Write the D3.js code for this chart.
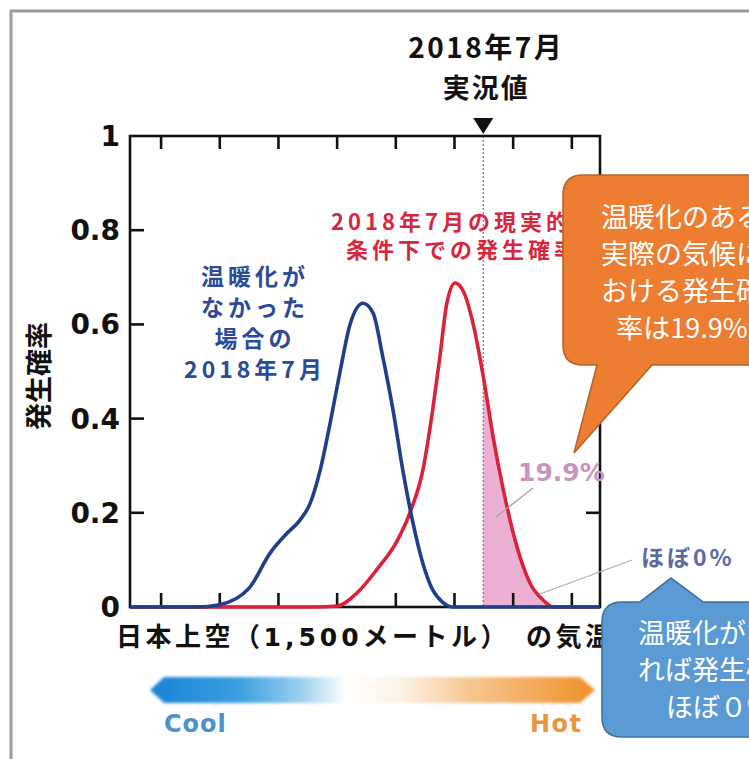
<!DOCTYPE html>
<html>
<head>
<meta charset="utf-8">
<script src="https://cdn.jsdelivr.net/npm/d3@7"></script>
<style>
  html, body { margin: 0; padding: 0; background: #fff; }
  svg { display: block; }
  .jp { font-family: "Noto Sans CJK JP", "Noto Sans", sans-serif; }
  .num { font-family: "DejaVu Sans", "Liberation Sans", sans-serif; }
</style>
</head>
<body>
<svg id="chart" width="749" height="759"></svg>
<script>
// Temperature axis (arbitrary units, one tick per unit)
const xTicks = [0, 1, 2, 3, 4, 5, 6, 7];
const yTicks = [0, 0.2, 0.4, 0.6, 0.8, 1];
const yTickLabels = ["0", "0.2", "0.4", "0.6", "0.8", "1"];

// Observed July 2018 value
const observed = 5.49;

// Distribution without warming (blue)
const noWarmX = [-0.53, 0.6, 1.0, 1.5, 1.86, 2.15, 2.37, 2.54, 2.71, 2.88, 3.05, 3.22, 3.44, 3.61, 3.78, 3.95, 4.12, 4.29, 4.46, 4.63, 4.8, 4.97, 7.48];
const noWarmY = [0, 0, 0.005, 0.04, 0.115, 0.157, 0.185, 0.22, 0.29, 0.39, 0.50, 0.60, 0.645, 0.625, 0.53, 0.42, 0.29, 0.18, 0.093, 0.036, 0.01, 0, 0];

// Distribution under actual 2018 conditions (red)
const actualX = [-0.53, 2.6, 3.0, 3.34, 3.68, 4.02, 4.24, 4.46, 4.63, 4.75, 4.87, 5.01, 5.14, 5.32, 5.49, 5.66, 5.83, 6.06, 6.29, 6.51, 6.68, 7.48];
const actualY = [0, 0, 0.002, 0.03, 0.08, 0.14, 0.20, 0.29, 0.42, 0.53, 0.645, 0.688, 0.673, 0.60, 0.49, 0.36, 0.25, 0.13, 0.05, 0.015, 0, 0];

// Text blocks
const blueLabel = ["温暖化が", "なかった", "場合の", "2018年7月"];
const redLabel = ["2018年7月の現実的な", "条件下での発生確率"];
const orangeLines = ["温暖化のある", "実際の気候に", "おける発生確", "率は19.9%"];
const blueLines = ["温暖化がなけ", "れば発生確率", "ほぼ０%"];
const xTitleParts = ["日本上空（", "1,500", "メートル）", "の気温"];

const svg = d3.select("#chart");

const x = d3.scaleLinear().domain([-0.53, 7.48]).range([130, 600]);
const y = d3.scaleLinear().domain([0, 1]).range([607, 136]);

// Outer panel border
svg.append("path")
  .attr("d", "M11,759 L11,11 L749,11")
  .attr("fill", "none").attr("stroke", "#9c9c9c").attr("stroke-width", 3);

const defs = svg.append("defs");

// Gradient Cool → Hot arrow
const grad = defs.append("linearGradient").attr("id", "tempGrad")
  .attr("x1", "0%").attr("x2", "100%").attr("y1", "0%").attr("y2", "0%");
[["0%", "#1784d6"], ["20%", "#3c9fe0"], ["34%", "#9bd0ef"], ["44%", "#ffffff"], ["56%", "#fdf3e6"], ["72%", "#f6c690"], ["100%", "#ef8f28"]]
  .forEach(([o, c]) => grad.append("stop").attr("offset", o).attr("stop-color", c));
defs.append("filter").attr("id", "soft").append("feGaussianBlur").attr("stdDeviation", 1.4);

svg.append("path")
  .attr("d", "M150,690 L164,677 L580,677 L595,690 L580,703 L164,703 Z")
  .attr("fill", "url(#tempGrad)").attr("filter", "url(#soft)");

svg.append("text").attr("class", "num").attr("x", 164).attr("y", 732)
  .attr("font-size", 24).attr("font-weight", "bold").attr("letter-spacing", 1).attr("fill", "#4a92c9").text("Cool");
svg.append("text").attr("class", "num").attr("x", 530).attr("y", 732)
  .attr("font-size", 24).attr("font-weight", "bold").attr("letter-spacing", 1.5).attr("fill", "#e9963f").text("Hot");

const redPts = actualX.map((v, i) => [v, actualY[i]]);
const bluePts = noWarmX.map((v, i) => [v, noWarmY[i]]);
const lineGen = d3.line().x(d => x(d[0])).y(d => y(d[1])).curve(d3.curveMonotoneX);

// Shaded tail beyond the observed value
defs.append("clipPath").attr("id", "tailClip").append("rect")
  .attr("x", x(observed)).attr("y", y(1)).attr("width", x(7.48) - x(observed)).attr("height", y(0) - y(1));
svg.append("path")
  .datum(redPts)
  .attr("d", d3.area().x(d => x(d[0])).y0(y(0)).y1(d => y(d[1])).curve(d3.curveMonotoneX))
  .attr("fill", "#edb0d5").attr("clip-path", "url(#tailClip)");

// Observed value line and marker
svg.append("line")
  .attr("x1", x(observed)).attr("x2", x(observed)).attr("y1", y(1)).attr("y2", y(0))
  .attr("stroke", "#777").attr("stroke-width", 1.2).attr("stroke-dasharray", "2,2");
svg.append("path")
  .attr("d", `M${x(observed) - 10},118 L${x(observed) + 10},118 L${x(observed)},134 Z`)
  .attr("fill", "#111");

// Frame and inward ticks
const axisColor = "#111";
svg.append("rect")
  .attr("x", x(-0.53)).attr("y", y(1)).attr("width", x(7.48) - x(-0.53)).attr("height", y(0) - y(1))
  .attr("fill", "none").attr("stroke", axisColor).attr("stroke-width", 2.6);

const tickG = svg.append("g").attr("stroke", axisColor).attr("stroke-width", 2.6);
xTicks.forEach(t => {
  tickG.append("line").attr("x1", x(t)).attr("x2", x(t)).attr("y1", y(0)).attr("y2", y(0) - 14);
  tickG.append("line").attr("x1", x(t)).attr("x2", x(t)).attr("y1", y(1)).attr("y2", y(1) + 13);
});
yTicks.filter(t => t > 0 && t < 1).forEach(t => {
  tickG.append("line").attr("x1", x(-0.53)).attr("x2", x(-0.53) + 14).attr("y1", y(t)).attr("y2", y(t));
  tickG.append("line").attr("x1", x(7.48)).attr("x2", x(7.48) - 14).attr("y1", y(t)).attr("y2", y(t));
});

// Y tick labels
svg.append("g").selectAll("text").data(yTicks).join("text")
  .attr("class", "num")
  .attr("x", 120).attr("y", d => y(d)).attr("dy", "0.36em")
  .attr("text-anchor", "end").attr("font-size", 28).attr("font-weight", "bold").attr("fill", "#111")
  .text((d, i) => yTickLabels[i]);

// Curves: red first, blue on top
svg.append("path").datum(redPts).attr("d", lineGen)
  .attr("fill", "none").attr("stroke", "#dc2139").attr("stroke-width", 3.6).attr("stroke-linejoin", "round");
svg.append("path").datum(bluePts).attr("d", lineGen)
  .attr("fill", "none").attr("stroke", "#213e8c").attr("stroke-width", 3.6).attr("stroke-linejoin", "round");

// Heading above the observed marker
svg.append("text").attr("class", "jp").attr("x", x(observed) + 3).attr("y", 58)
  .attr("text-anchor", "middle").attr("font-size", 28).attr("font-weight", "bold").attr("letter-spacing", 2.5)
  .attr("fill", "#111").text("2018年7月");
svg.append("text").attr("class", "jp").attr("x", x(observed) + 3).attr("y", 98)
  .attr("text-anchor", "middle").attr("font-size", 27).attr("font-weight", "bold").attr("letter-spacing", 2)
  .attr("fill", "#111").text("実況値");

// Axis titles
svg.append("text").attr("class", "jp")
  .attr("transform", "translate(49,376) rotate(-90)")
  .attr("text-anchor", "middle").attr("font-size", 27).attr("font-weight", "bold").attr("fill", "#111").text("発生確率");

const xTitle = svg.append("text").attr("class", "jp").attr("x", 116).attr("y", 646)
  .attr("font-size", 26).attr("font-weight", "bold").attr("letter-spacing", 3.5).attr("fill", "#111");
xTitleParts.forEach((p, i) => {
  const t = xTitle.append("tspan").text(p);
  if (i === 1) t.attr("class", "num").attr("font-size", 25).attr("letter-spacing", 4);
  if (i === 3) t.attr("dx", 16);
});

// Curve labels
svg.append("g").selectAll("text").data(blueLabel).join("text")
  .attr("class", "jp").attr("x", 255).attr("y", (d, i) => 285 + i * 31)
  .attr("text-anchor", "middle").attr("font-size", 23).attr("font-weight", "bold").attr("letter-spacing", 4)
  .attr("fill", "#2b4a97").text(d => d);

svg.append("g").selectAll("text").data(redLabel).join("text")
  .attr("class", "jp").attr("x", (d, i) => i === 0 ? 331 : 346).attr("y", (d, i) => 230 + i * 28)
  .attr("font-size", 22).attr("font-weight", "bold").attr("fill", "#d8263c").attr("letter-spacing", 4)
  .text(d => d);

// Tail probability annotations
svg.append("line").attr("x1", 533).attr("y1", 488).attr("x2", 496).attr("y2", 517)
  .attr("stroke", "#b89ab0").attr("stroke-width", 1.3);
svg.append("text").attr("class", "num").attr("x", 518).attr("y", 481)
  .attr("font-size", 25).attr("font-weight", "bold").attr("fill", "#c995be").text("19.9%");

svg.append("line").attr("x1", 632).attr("y1", 560).attr("x2", 540).attr("y2", 594)
  .attr("stroke", "#a9aec4").attr("stroke-width", 1.3);
svg.append("text").attr("class", "jp").attr("x", 641).attr("y", 566)
  .attr("font-size", 23).attr("font-weight", "bold").attr("letter-spacing", 3).attr("fill", "#5c6aa3").text("ほぼ0%");

// Callout bubbles
function bubble(bx, by, bw, bh, r, ptr, fill, stroke) {
  const [p1, tip, p2] = ptr;
  let d;
  if (p1[1] <= by + 1) {
    d = `M${bx + r},${by} L${p1[0]},${by} L${tip[0]},${tip[1]} L${p2[0]},${by} L${bx + bw - r},${by}
         Q${bx + bw},${by} ${bx + bw},${by + r} L${bx + bw},${by + bh - r} Q${bx + bw},${by + bh} ${bx + bw - r},${by + bh}
         L${bx + r},${by + bh} Q${bx},${by + bh} ${bx},${by + bh - r} L${bx},${by + r} Q${bx},${by} ${bx + r},${by} Z`;
  } else {
    d = `M${bx + r},${by} L${bx + bw - r},${by} Q${bx + bw},${by} ${bx + bw},${by + r} L${bx + bw},${by + bh - r}
         Q${bx + bw},${by + bh} ${bx + bw - r},${by + bh} L${p2[0]},${by + bh} L${tip[0]},${tip[1]} L${p1[0]},${by + bh}
         L${bx + r},${by + bh} Q${bx},${by + bh} ${bx},${by + bh - r} L${bx},${by + r} Q${bx},${by} ${bx + r},${by} Z`;
  }
  svg.append("path").attr("d", d).attr("fill", fill).attr("stroke", stroke).attr("stroke-width", 1.6);
}

bubble(563, 175, 240, 190, 20, [[597, 365], [574, 453], [652, 365]], "#ed7d31", "#b4652b");
svg.append("g").selectAll("text").data(orangeLines).join("text")
  .attr("class", "jp").attr("x", 682).attr("y", (d, i) => 227 + i * 37)
  .attr("text-anchor", "middle").attr("font-size", 27).attr("fill", "#fff").text(d => d);

bubble(602, 602, 240, 135, 20, [[640, 602], [671, 578], [703, 602]], "#5b9bd5", "#41719c");
svg.append("g").selectAll("text").data(blueLines).join("text")
  .attr("class", "jp").attr("x", 719).attr("y", (d, i) => 643 + i * 37)
  .attr("text-anchor", "middle").attr("font-size", 27).attr("fill", "#fff").text(d => d);
</script>
</body>
</html>
